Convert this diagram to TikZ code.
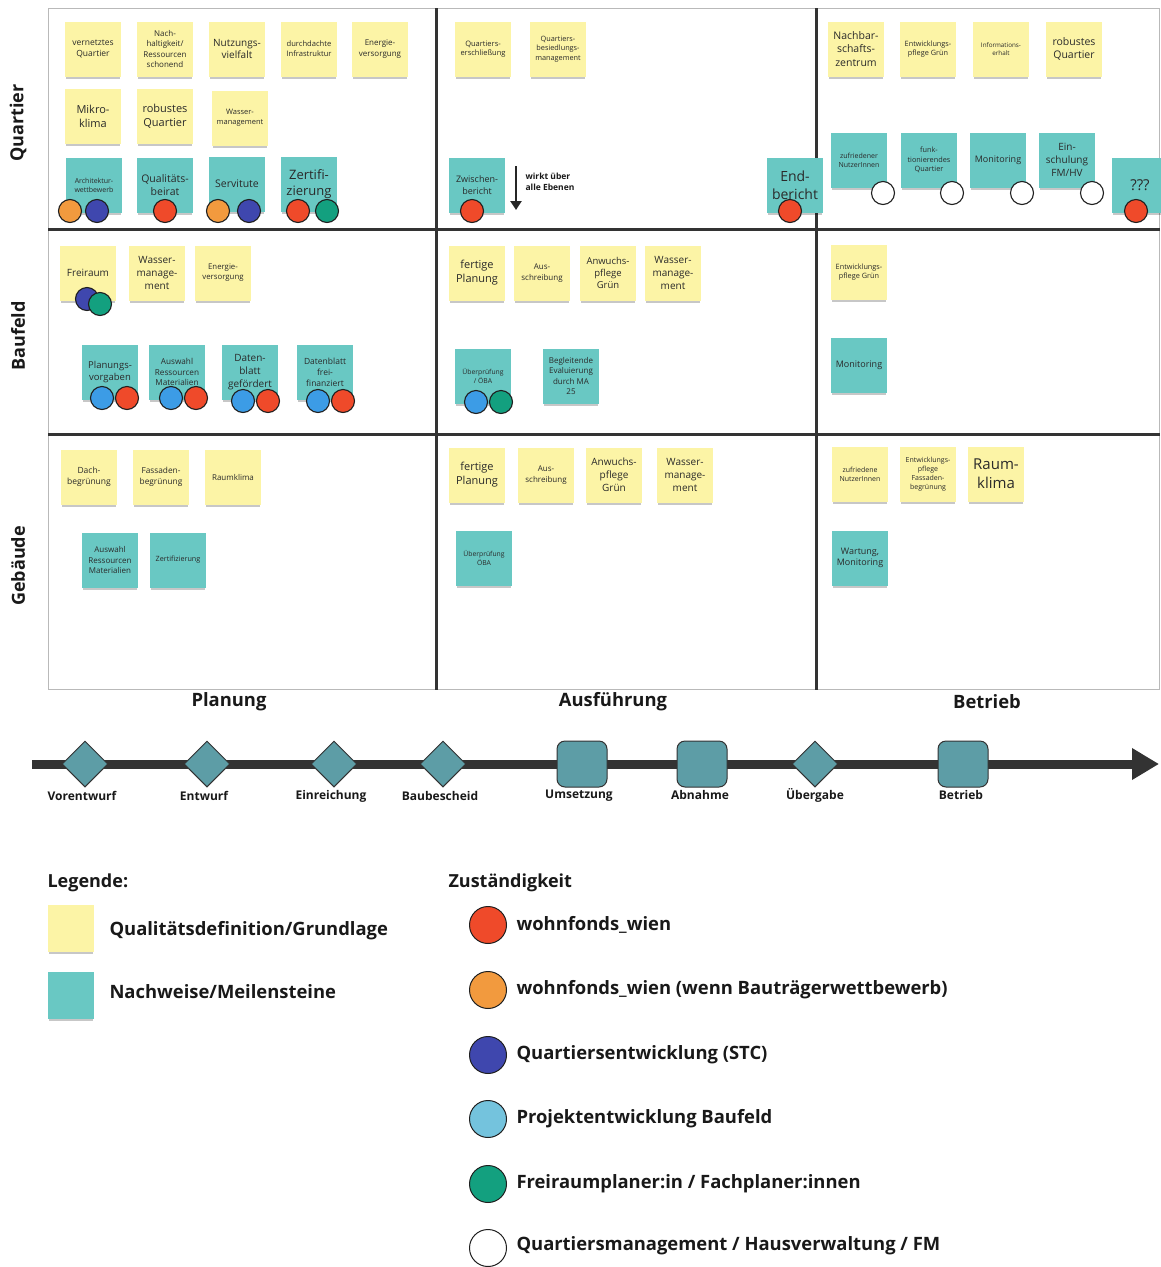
\documentclass[tikz,border=0pt]{standalone}
\usepackage{fontspec}
\setmainfont{Open Sans}
\usetikzlibrary{shapes.geometric,arrows.meta,shadows}
\definecolor{noteY}{HTML}{FCF4A6}
\definecolor{noteT}{HTML}{69C8C3}
\definecolor{tlfill}{HTML}{5D9DA6}
\definecolor{tlline}{HTML}{333333}
\definecolor{gridc}{HTML}{333333}
\definecolor{txt}{HTML}{2A2A2A}
\definecolor{cred}{HTML}{EF4A2A}
\definecolor{corange}{HTML}{F29A3E}
\definecolor{cdblue}{HTML}{3F47AE}
\definecolor{clblue}{HTML}{3C9CE6}
\definecolor{clblueL}{HTML}{74C3DD}
\definecolor{cgreen}{HTML}{13A07F}
\newcommand\fsz[1]{\fontsize{#1}{#1}\selectfont\baselineskip=1.28\baselineskip}
\newcommand\ynt[5]{\node[ynote,font=\fsz{#4}] (#1) at (#2,#3) {#5};}
\newcommand\tnt[5]{\node[tnote,font=\fsz{#4}] (#1) at (#2,#3) {#5};}
\tikzset{
  note/.style={rectangle, minimum width=56pt, minimum height=55pt, inner sep=1pt, align=center, text=txt,
    drop shadow={shadow xshift=0pt, shadow yshift=-4pt, shadow scale=0.95, opacity=0.22, fill=black}},
  ynote/.style={note, fill=noteY},
  tnote/.style={note, fill=noteT},
  dot/.style={circle, draw=black!88, line width=1.1pt, minimum size=23pt, inner sep=0pt},
  ldot/.style={circle, draw=black!88, line width=1pt, minimum size=37pt, inner sep=0pt},
  ms/.style={diamond, draw=black!80, fill=tlfill, line width=1pt, minimum width=46pt, minimum height=46pt, inner sep=0pt},
  mq/.style={rectangle, rounded corners=8pt, draw=black!80, fill=tlfill, line width=1pt, minimum width=50pt, minimum height=46pt, inner sep=0pt},
  gridline/.style={draw=gridc, line width=3pt},
  tllbl/.style={font=\bfseries\fsz{12}, text=black!90},
  phase/.style={font=\bfseries\fsz{18.4}, text=black!90},
  rowlbl/.style={font=\bfseries\fsz{18}, text=black!90, rotate=90},
  leg/.style={font=\bfseries\fsz{18.4}, text=black!90, anchor=west},
}
\begin{document}
\begin{tikzpicture}[x=1pt,y=-1pt]
\useasboundingbox[fill=white] (0,0) rectangle (1160,1267);
% grid
\draw[gray!55, line width=0.8pt] (48,8) rectangle (1159.5,689);
\draw[gridline] (436,8) -- (436,690);
\draw[gridline] (816,8) -- (816,690);
\draw[gridline] (48,229) -- (1160,229);
\draw[gridline] (48,434) -- (1160,434);
% row labels
\node[rowlbl] (rq) at (18,123) {Quartier};
\node[rowlbl] (rb) at (18,336) {Baufeld};
\node[rowlbl] (rg) at (18,566) {Gebäude};
% phases
\node[phase] (pp) at (229,702) {Planung};
\node[phase] (pa) at (613,702) {Ausführung};
\node[phase] (pb) at (987,702) {Betrieb};

% ---------- Quartier / Planung
\ynt{q1}{93}{49}{8.5}{vernetztes\\Quartier}
\ynt{q2}{165}{49}{8}{Nach-\\haltigkeit/\\Ressourcen\\schonend}
\ynt{q3}{237}{49}{10}{Nutzungs-\\vielfalt}
\ynt{q4}{309}{49}{7.6}{durchdachte\\Infrastruktur}
\ynt{q5}{380}{49}{8}{Energie-\\versorgung}
\ynt{q6}{93}{116}{11}{Mikro-\\klima}
\ynt{q7}{165}{116}{11}{robustes\\Quartier}
\ynt{q8}{240}{118}{7.5}{Wasser-\\management}
\tnt{q9}{94}{185}{7}{Architektur-\\wettbewerb}
\tnt{q10}{165}{185}{10.5}{Qualitäts-\\beirat}
\tnt{q11}{237}{184}{10.5}{Servitute}
\tnt{q12}{309}{184}{13}{Zertifi-\\zierung}
% ---------- Quartier / Ausführung
\ynt{q13}{483}{49}{7.5}{Quartiers-\\erschließung}
\ynt{q14}{558}{49}{7.3}{Quartiers-\\besiedlungs-\\management}
\tnt{q15}{477}{185}{9}{Zwischen-\\bericht}
\tnt{q16}{795}{185}{14}{End-\\bericht}
\coordinate (wa1) at (516,166);
\coordinate (wa2) at (516,210);
\draw[line width=2.6pt, black!85, -{Triangle[length=9pt,width=11pt]}] (wa1) -- (wa2);
\node[font=\bfseries\fsz{8.5}, align=left, anchor=west, text=black!90] (wirkt) at (522,182) {wirkt über\\alle Ebenen};
% ---------- Quartier / Betrieb
\ynt{q17}{856}{49}{10.5}{Nachbar-\\schafts-\\zentrum}
\ynt{q18}{928}{49}{7.3}{Entwicklungs-\\pflege Grün}
\ynt{q19}{1001}{49}{6.3}{Informations-\\erhalt}
\ynt{q20}{1074}{49}{10.5}{robustes\\Quartier}
\tnt{q21}{859}{160}{7}{zufriedener\\NutzerInnen}
\tnt{q22}{929}{160}{7.3}{funk-\\tionierendes\\Quartier}
\tnt{q23}{998}{160}{9}{Monitoring}
\tnt{q24}{1067}{160}{10}{Ein-\\schulung\\FM/HV}
\tnt{q25}{1140}{185}{15}{???}

% ---------- Baufeld / Planung
\ynt{b1}{88}{273}{10}{Freiraum}
\ynt{b2}{157}{273}{10}{Wasser-\\manage-\\ment}
\ynt{b3}{223}{273}{7.8}{Energie-\\versorgung}
\tnt{b4}{110}{372}{9.5}{Planungs-\\vorgaben}
\tnt{b5}{177}{372}{8.2}{Auswahl\\Ressourcen\\Materialien}
\tnt{b6}{250}{372}{10}{Daten-\\blatt\\gefördert}
\tnt{b7}{325}{372}{8.5}{Datenblatt\\frei-\\finanziert}
% ---------- Baufeld / Ausführung
\ynt{b8}{477}{273}{11}{fertige\\Planung}
\ynt{b9}{542}{273}{8}{Aus-\\schreibung}
\ynt{b10}{608}{273}{9.5}{Anwuchs-\\pflege\\Grün}
\ynt{b11}{673}{273}{10}{Wasser-\\manage-\\ment}
\tnt{b12}{483}{376}{6.8}{Überprüfung\\/ ÖBA}
\tnt{b13}{571}{376}{8}{Begleitende\\Evaluierung\\durch MA\\25}
% ---------- Baufeld / Betrieb
\ynt{b14}{859}{272}{7.3}{Entwicklungs-\\pflege Grün}
\tnt{b15}{859}{365}{9}{Monitoring}

% ---------- Gebäude / Planung
\ynt{g1}{89}{477}{8.5}{Dach-\\begrünung}
\ynt{g2}{161}{477}{8.3}{Fassaden-\\begrünung}
\ynt{g3}{233}{477}{8}{Raumklima}
\tnt{g4}{110}{560}{8}{Auswahl\\Ressourcen\\Materialien}
\tnt{g5}{178}{560}{7.2}{Zertifizierung}
% ---------- Gebäude / Ausführung
\ynt{g6}{477}{475}{11}{fertige\\Planung}
\ynt{g7}{546}{475}{8}{Aus-\\schreibung}
\ynt{g8}{614}{475}{10}{Anwuchs-\\pflege\\Grün}
\ynt{g9}{685}{475}{10}{Wasser-\\manage-\\ment}
\tnt{g10}{484}{558}{6.8}{Überprüfung\\ÖBA}
% ---------- Gebäude / Betrieb
\ynt{g11}{860}{474}{7}{zufriedene\\NutzerInnen}
\ynt{g12}{928}{474}{7}{Entwicklungs-\\pflege\\Fassaden-\\begrünung}
\ynt{g13}{996}{474}{15}{Raum-\\klima}
\tnt{g14}{860}{558}{9}{Wartung,\\Monitoring}

% ---------- responsibility dots
\node[dot, fill=corange] (d1) at (70,211) {};
\node[dot, fill=cdblue] (d2) at (97,211) {};
\node[dot, fill=cred] (d3) at (165,211) {};
\node[dot, fill=corange] (d4) at (218,211) {};
\node[dot, fill=cdblue] (d5) at (249,211) {};
\node[dot, fill=cred] (d6) at (298,211) {};
\node[dot, fill=cgreen] (d7) at (327,211) {};
\node[dot, fill=cred] (d8) at (472,211) {};
\node[dot, fill=cred] (d9) at (790,211) {};
\node[dot, fill=white] (d10) at (883,193) {};
\node[dot, fill=white] (d11) at (952,193) {};
\node[dot, fill=white] (d12) at (1022,193) {};
\node[dot, fill=white] (d13) at (1092,193) {};
\node[dot, fill=cred] (d14) at (1136,211) {};
\node[dot, fill=cdblue] (d15) at (87,299) {};
\node[dot, fill=cgreen] (d16) at (100,304) {};
\node[dot, fill=clblue] (d17) at (102,398) {};
\node[dot, fill=cred] (d18) at (127,398) {};
\node[dot, fill=clblue] (d19) at (171,398) {};
\node[dot, fill=cred] (d20) at (196,398) {};
\node[dot, fill=clblue] (d21) at (243,401) {};
\node[dot, fill=cred] (d22) at (268,401) {};
\node[dot, fill=clblue] (d23) at (318,401) {};
\node[dot, fill=cred] (d24) at (343,401) {};
\node[dot, fill=clblue] (d25) at (476,402) {};
\node[dot, fill=cgreen] (d26) at (501,402) {};

% ---------- timeline
\coordinate (tls) at (32,764);
\coordinate (tle) at (1159,764);
\draw[line width=9pt, draw=tlline, -{Triangle[length=27pt,width=30pt]}] (tls) -- (tle);
\node[ms] (m1) at (85,764) {};
\node[ms] (m2) at (207,764) {};
\node[ms] (m3) at (334,764) {};
\node[ms] (m4) at (443,764) {};
\node[mq] (m5) at (582,764) {};
\node[mq] (m6) at (702,764) {};
\node[ms] (m7) at (815,764) {};
\node[mq] (m8) at (963,764) {};
\node[tllbl] (l1) at (82,796) {Vorentwurf};
\node[tllbl] (l2) at (204,796) {Entwurf};
\node[tllbl] (l3) at (331,796) {Einreichung};
\node[tllbl] (l4) at (440,796) {Baubescheid};
\node[tllbl] (l5) at (579,796) {Umsetzung};
\node[tllbl] (l6) at (700,795) {Abnahme};
\node[tllbl] (l7) at (815,795) {Übergabe};
\node[tllbl] (l8) at (961,795) {Betrieb};

% ---------- legend
\node[font=\bfseries\fsz{18}, text=black!90, anchor=west] (lgh) at (44,883) {Legende:};
\node[note, fill=noteY, minimum width=46pt, minimum height=47pt] (lgy) at (71,928) {};
\node[leg] (lgyt) at (106,931) {Qualitätsdefinition/Grundlage};
\node[note, fill=noteT, minimum width=46pt, minimum height=47pt] (lgt) at (71,995) {};
\node[leg] (lgtt) at (106,992) {Nachweise/Meilensteine};
\node[font=\bfseries\fsz{18}, text=black!90, anchor=west] (zh) at (445,883) {Zuständigkeit};
\node[ldot, fill=cred] (z1) at (488,925) {};
\node[leg] (z1t) at (513,925) {wohnfonds\_wien};
\node[ldot, fill=corange] (z2) at (488,990) {};
\node[leg] (z2t) at (513,990) {wohnfonds\_wien (wenn Bauträgerwettbewerb)};
\node[ldot, fill=cdblue] (z3) at (488,1055) {};
\node[leg] (z3t) at (513,1055) {Quartiersentwicklung (STC)};
\node[ldot, fill=clblueL] (z4) at (488,1119) {};
\node[leg] (z4t) at (513,1119) {Projektentwicklung Baufeld};
\node[ldot, fill=cgreen] (z5) at (488,1184) {};
\node[leg] (z5t) at (513,1184) {Freiraumplaner:in / Fachplaner:innen};
\node[ldot, fill=white] (z6) at (488,1248) {};
\node[leg] (z6t) at (513,1246) {Quartiersmanagement / Hausverwaltung / FM};
\end{tikzpicture}
\end{document}
